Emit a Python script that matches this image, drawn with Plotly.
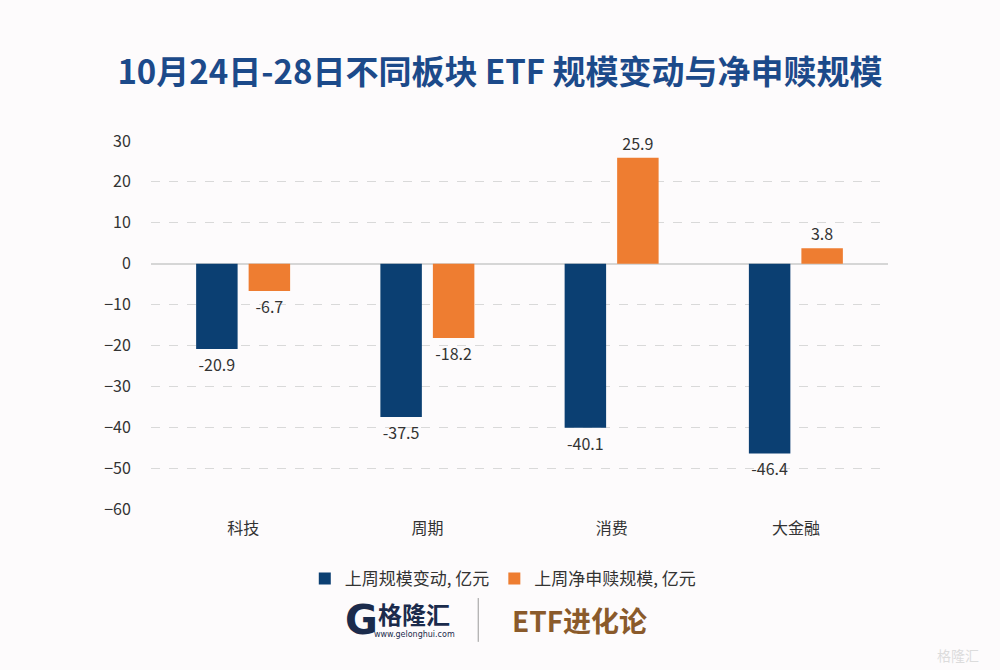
import plotly.graph_objects as go

categories = ["科技", "周期", "消费", "大金融"]
scale_change = [-20.9, -37.5, -40.1, -46.4]
net_subscription = [-6.7, -18.2, 25.9, 3.8]
series_names = ["上周规模变动, 亿元", "上周净申赎规模, 亿元"]
y_ticks = [30, 20, 10, 0, -10, -20, -30, -40, -50, -60]

FONT = "Noto Sans CJK SC"
BG = "#fdfbfc"

fig = go.Figure()
fig.add_trace(go.Bar(
    x=categories, y=scale_change, name=series_names[0],
    marker=dict(color="#0b3f72", line=dict(width=0)),
    text=[f"{v}" for v in scale_change], textposition="outside",
    textfont=dict(size=16, color="#333333", family=FONT), cliponaxis=False,
))
fig.add_trace(go.Bar(
    x=categories, y=net_subscription, name=series_names[1],
    marker=dict(color="#ee7d31", line=dict(width=0)),
    text=[f"{v}" for v in net_subscription], textposition="outside",
    textfont=dict(size=16, color="#333333", family=FONT), cliponaxis=False,
))

fig.update_layout(
    width=1000, height=670,
    paper_bgcolor=BG, plot_bgcolor=BG,
    margin=dict(l=151, r=112, t=141, b=161),
    barmode="group", bargap=0.43, bargroupgap=0.21,
    font=dict(family=FONT, color="#333333"),
    title=dict(text="<b>10月24日-28日不同板块 ETF 规模变动与净申赎规模</b>",
               x=0.5, xanchor="center", y=0.892, yanchor="middle",
               font=dict(size=33, color="#1c4a8a", family=FONT)),
    legend=dict(orientation="h", x=0.478, xanchor="center", y=-0.19, yanchor="middle",
                font=dict(size=17, color="#333333", family=FONT),
                itemwidth=30, traceorder="normal", bgcolor="rgba(0,0,0,0)"),
    showlegend=True,
)
fig.update_yaxes(
    range=[-60, 30], tickvals=y_ticks, showgrid=True,
    gridcolor="#d9d9d9", griddash="dash", gridwidth=1,
    zeroline=True, zerolinecolor="#d6d6d6", zerolinewidth=1.5,
    tickfont=dict(size=16, color="#333333"),
    ticks="outside", ticklen=16, tickcolor="rgba(0,0,0,0)",
    showline=False,
)
fig.update_xaxes(
    showgrid=False, showline=False, ticks="",
    tickfont=dict(size=16, color="#333333"), ticklabelstandoff=8,
)

# Logo area
fig.add_annotation(text="<b>G</b>", x=0.286, y=-0.302, xref="paper", yref="paper",
                   xanchor="center", yanchor="middle", showarrow=False,
                   font=dict(size=40, color="#1b2b4c", family="DejaVu Sans"))
fig.add_annotation(text="<b>格隆汇</b>", x=0.357, y=-0.283, xref="paper", yref="paper",
                   xanchor="center", yanchor="middle", showarrow=False,
                   font=dict(size=24, color="#1b2b4c", family=FONT))
fig.add_annotation(text="www.gelonghui.com", x=0.357, y=-0.342, xref="paper", yref="paper",
                   xanchor="center", yanchor="middle", showarrow=False,
                   font=dict(size=8, color="#1b2b4c", family="DejaVu Sans"))
fig.add_shape(type="line", xref="paper", yref="paper", x0=0.444, x1=0.444,
              y0=-0.242, y1=-0.361, line=dict(color="#9a9a9a", width=1))
fig.add_annotation(text="<b>ETF进化论</b>", x=0.582, y=-0.302, xref="paper", yref="paper",
                   xanchor="center", yanchor="middle", showarrow=False,
                   font=dict(size=28, color="#8a5a2b", family=FONT))
fig.add_annotation(text="格隆汇", x=1.095, y=-0.397, xref="paper", yref="paper",
                   xanchor="center", yanchor="middle", showarrow=False,
                   font=dict(size=14, color="#dcdcdc", family=FONT))

fig.write_html("out.html")
